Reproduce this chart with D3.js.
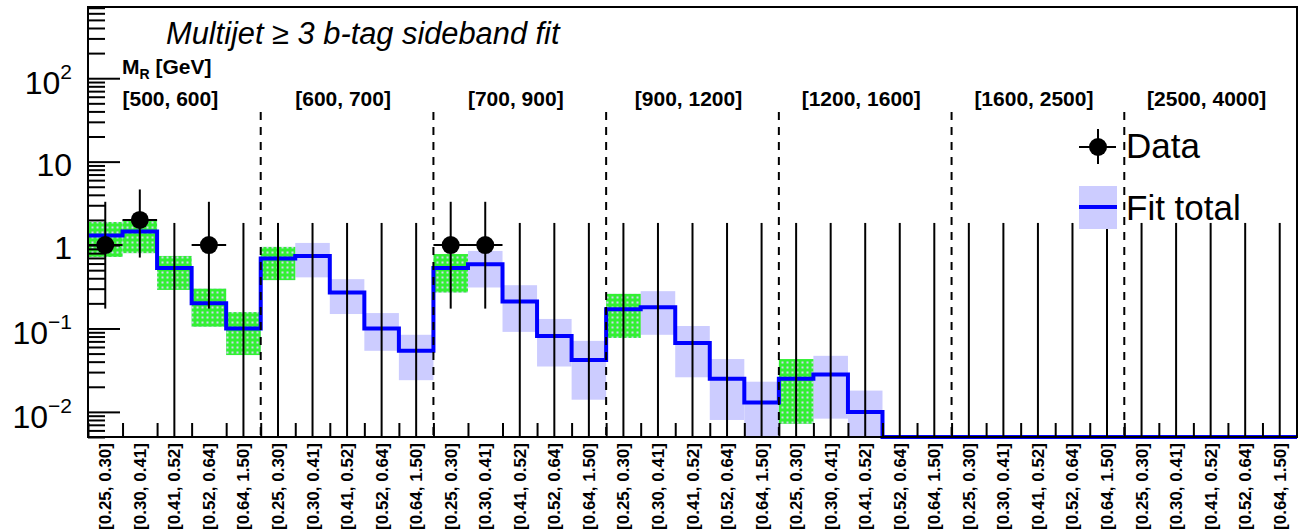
<!DOCTYPE html>
<html>
<head>
<meta charset="utf-8">
<script src="https://cdn.jsdelivr.net/npm/d3@7"></script>
<style>
    body { margin: 0; background: #ffffff; }
    text { font-family: "Liberation Sans", Arial, sans-serif; }
</style>
</head>
<body>
<script>
// #region DATA
var mrGroups = ["[500, 600]", "[600, 700]", "[700, 900]", "[900, 1200]", "[1200, 1600]", "[1600, 2500]", "[2500, 4000]"];
var rsqBins = ["[0.25, 0.30]", "[0.30, 0.41]", "[0.41, 0.52]", "[0.52, 0.64]", "[0.64, 1.50]"];

// observed events per bin
var dataCounts = [1, 2, 0, 1, 0,  0, 0, 0, 0, 0,  1, 1, 0, 0, 0,  0, 0, 0, 0, 0,
                  0, 0, 0, 0, 0,  0, 0, 0, 0, 0,  0, 0, 0, 0, 0];

// 68% Poisson interval for n = 0, 1, 2
var poissonLow = [0, 0.173, 0.708];
var poissonHigh = [1.841, 3.300, 4.638];

// fit total and its band
var fitTotal = [1.3, 1.45, 0.53, 0.20, 0.10,  0.69, 0.74, 0.27, 0.10, 0.054,
                0.53, 0.59, 0.21, 0.081, 0.042,  0.17, 0.18, 0.067, 0.025, 0.013,
                0.025, 0.028, 0.010, 0.001, 0.001,  0.001, 0.001, 0.001, 0.001, 0.001,
                0.001, 0.001, 0.001, 0.001, 0.001];
var fitLow = [0.72, 0.80, 0.29, 0.105, 0.048,  0.38, 0.41, 0.149, 0.054, 0.024,
              0.27, 0.31, 0.091, 0.035, 0.014,  0.077, 0.084, 0.026, 0.008, 0.003,
              0.0072, 0.0083, 0.003, 0.001, 0.001,  0.001, 0.001, 0.001, 0.001, 0.001,
              0.001, 0.001, 0.001, 0.001, 0.001];
var fitHigh = [1.89, 1.99, 0.74, 0.30, 0.157,  0.95, 1.06, 0.39, 0.153, 0.084,
               0.78, 0.85, 0.33, 0.13, 0.071,  0.26, 0.28, 0.107, 0.043, 0.023,
               0.043, 0.047, 0.018, 0.001, 0.001,  0.001, 0.001, 0.001, 0.001, 0.001,
               0.001, 0.001, 0.001, 0.001, 0.001];

// bins drawn with the green sideband hatch
var sidebandBins = [0, 1, 2, 3, 4, 5, 10, 15, 20];

var yMajorTicks = [0.01, 0.1, 1, 10, 100];
var yTickBase = ["10", "10", "1", "10", "10"];
var yTickExp = ["\u22122", "\u22121", "", "", "2"];
// #endregion

// #region SETUP
var width = 1298, height = 532;
var nBins = mrGroups.length * rsqBins.length;

var binLabels = [];
mrGroups.forEach(function() {
    rsqBins.forEach(function(r) { binLabels.push(r); });
});

var svg = d3.select("body")
    .append("svg")
    .attr("width", width)
    .attr("height", height);

var x = d3.scaleLinear()
    .domain([0, nBins])
    .range([88, 1297]);

var y = d3.scaleLog()
    .domain([0.005, 714])
    .range([437, 7])
    .clamp(true);

var yBottom = y.domain()[0];

var defs = svg.append("defs");
var hatch = defs.append("pattern")
    .attr("id", "hatch")
    .attr("patternUnits", "userSpaceOnUse")
    .attr("width", 5)
    .attr("height", 5);
hatch.append("rect")
    .attr("width", 5)
    .attr("height", 5)
    .attr("fill", "#33f033");
hatch.append("rect")
    .attr("x", 1.5)
    .attr("y", 1.5)
    .attr("width", 2)
    .attr("height", 2)
    .attr("fill", "#d2d4f4");
// #endregion

// #region BANDS
var bins = d3.range(nBins);

svg.append("g")
    .attr("id", "fit-band")
    .selectAll("rect")
    .data(bins.filter(i => fitHigh[i] > yBottom))
    .enter()
    .append("rect")
        .attr("x", i => x(i))
        .attr("y", i => y(fitHigh[i]))
        .attr("width", i => x(i + 1) - x(i))
        .attr("height", i => y(fitLow[i]) - y(fitHigh[i]))
        .attr("fill", "#ccccff");

svg.append("g")
    .attr("id", "sideband-band")
    .selectAll("rect")
    .data(sidebandBins)
    .enter()
    .append("rect")
        .attr("x", i => x(i))
        .attr("y", i => y(fitHigh[i]))
        .attr("width", i => x(i + 1) - x(i))
        .attr("height", i => y(fitLow[i]) - y(fitHigh[i]))
        .attr("fill", "url(#hatch)");
// #endregion

// #region FIT LINE
var stepPoints = [];
bins.forEach(function(i) {
    stepPoints.push([x(i), y(fitTotal[i])]);
    stepPoints.push([x(i + 1), y(fitTotal[i])]);
});

svg.append("path")
    .attr("d", d3.line()(stepPoints))
    .attr("fill", "none")
    .attr("stroke", "#0000ff")
    .attr("stroke-width", 4);
// #endregion

// #region SEPARATORS
svg.append("g")
    .attr("id", "separators")
    .selectAll("line")
    .data(d3.range(1, mrGroups.length))
    .enter()
    .append("line")
        .attr("x1", g => x(g * rsqBins.length))
        .attr("x2", g => x(g * rsqBins.length))
        .attr("y1", 112)
        .attr("y2", y(yBottom))
        .attr("stroke", "#000")
        .attr("stroke-width", 2)
        .attr("stroke-dasharray", "8,7");

svg.append("g")
    .attr("id", "group-labels")
    .selectAll("text")
    .data(mrGroups)
    .enter()
    .append("text")
        .text(d => d)
        .attr("x", (d, g) => (x(g * rsqBins.length) + x((g + 1) * rsqBins.length)) / 2 - 4)
        .attr("y", 106)
        .attr("text-anchor", "middle")
        .attr("font-size", "21px")
        .attr("font-weight", "bold");

var mrLabel = svg.append("text")
    .attr("x", 122)
    .attr("y", 74)
    .attr("font-size", "21px")
    .attr("font-weight", "bold")
    .text("M");
mrLabel.append("tspan")
    .attr("font-size", "14px")
    .attr("dy", 5)
    .text("R");
mrLabel.append("tspan")
    .attr("dy", -5)
    .text(" [GeV]");
// #endregion

// #region DATA POINTS
var dataG = svg.append("g").attr("id", "data");

dataG.selectAll("line.vbar")
    .data(bins)
    .enter()
    .append("line")
        .attr("class", "vbar")
        .attr("x1", i => x(i + 0.5))
        .attr("x2", i => x(i + 0.5))
        .attr("y1", i => dataCounts[i] > 0 ? y(poissonLow[dataCounts[i]]) : y(yBottom))
        .attr("y2", i => y(poissonHigh[dataCounts[i]]))
        .attr("stroke", "#000")
        .attr("stroke-width", 2);

var filled = bins.filter(i => dataCounts[i] > 0);

dataG.selectAll("line.hbar")
    .data(filled)
    .enter()
    .append("line")
        .attr("class", "hbar")
        .attr("x1", i => x(i))
        .attr("x2", i => x(i + 1))
        .attr("y1", i => y(dataCounts[i]))
        .attr("y2", i => y(dataCounts[i]))
        .attr("stroke", "#000")
        .attr("stroke-width", 2);

dataG.selectAll("circle")
    .data(filled)
    .enter()
    .append("circle")
        .attr("cx", i => x(i + 0.5))
        .attr("cy", i => y(dataCounts[i]))
        .attr("r", 9)
        .attr("fill", "#000");
// #endregion

// #region AXES
var minorTicks = y.ticks().filter(v => yMajorTicks.indexOf(v) < 0);

svg.append("g")
    .attr("transform", "translate(" + x(0) + ",0)")
    .call(d3.axisRight(y).tickValues(minorTicks).tickSize(17).tickFormat(""))
    .call(g => g.select(".domain").remove())
    .selectAll("line").attr("stroke-width", 2);

svg.append("g")
    .attr("transform", "translate(" + x(0) + ",0)")
    .call(d3.axisRight(y).tickValues(yMajorTicks).tickSize(32).tickFormat(""))
    .call(g => g.select(".domain").remove())
    .selectAll("line").attr("stroke-width", 2);

svg.append("g")
    .attr("transform", "translate(0," + y(yBottom) + ")")
    .call(d3.axisTop(x).tickValues(d3.range(nBins + 1)).tickSize(14).tickFormat(""))
    .call(g => g.select(".domain").remove())
    .selectAll("line").attr("stroke-width", 2);

svg.append("rect")
    .attr("x", x(0))
    .attr("y", y.range()[1])
    .attr("width", x(nBins) - x(0))
    .attr("height", y.range()[0] - y.range()[1])
    .attr("fill", "none")
    .attr("stroke", "#000")
    .attr("stroke-width", 2);

var yLabels = svg.append("g")
    .attr("id", "y-labels")
    .selectAll("text")
    .data(yMajorTicks)
    .enter()
    .append("text")
        .attr("x", 72)
        .attr("y", (d, i) => y(d) + (yTickExp[i] ? 16 : 14))
        .attr("text-anchor", "end")
        .attr("font-size", "32px")
        .text((d, i) => yTickBase[i]);

yLabels.append("tspan")
    .attr("dy", -15)
    .attr("font-size", "21px")
    .text((d, i) => yTickExp[i]);

svg.append("g")
    .attr("id", "x-labels")
    .selectAll("text")
    .data(binLabels)
    .enter()
    .append("text")
        .text(d => d)
        .attr("transform", (d, i) => "translate(" + (x(i + 0.5) + 6) + ",443) rotate(-90)")
        .attr("text-anchor", "end")
        .attr("font-size", "17px")
        .attr("font-weight", "bold");
// #endregion

// #region TITLE + LEGEND
svg.append("text")
    .attr("x", 166)
    .attr("y", 44)
    .attr("font-size", "30.8px")
    .attr("font-style", "italic")
    .text("Multijet \u2265 3 b-tag sideband fit");

var legend = svg.append("g").attr("id", "legend");

legend.append("line")
    .attr("x1", 1079).attr("x2", 1116)
    .attr("y1", 147).attr("y2", 147)
    .attr("stroke", "#000").attr("stroke-width", 2);
legend.append("line")
    .attr("x1", 1098).attr("x2", 1098)
    .attr("y1", 129).attr("y2", 164)
    .attr("stroke", "#000").attr("stroke-width", 2);
legend.append("circle")
    .attr("cx", 1098).attr("cy", 147).attr("r", 9)
    .attr("fill", "#000");
legend.append("text")
    .attr("x", 1126).attr("y", 158)
    .attr("font-size", "35px")
    .text("Data");

legend.append("rect")
    .attr("x", 1079).attr("y", 186)
    .attr("width", 38).attr("height", 43)
    .attr("fill", "#ccccff");
legend.append("line")
    .attr("x1", 1079).attr("x2", 1117)
    .attr("y1", 207).attr("y2", 207)
    .attr("stroke", "#0000ff").attr("stroke-width", 4);
legend.append("text")
    .attr("x", 1126).attr("y", 220)
    .attr("font-size", "35px")
    .text("Fit total");
// #endregion
</script>
</body>
</html>
